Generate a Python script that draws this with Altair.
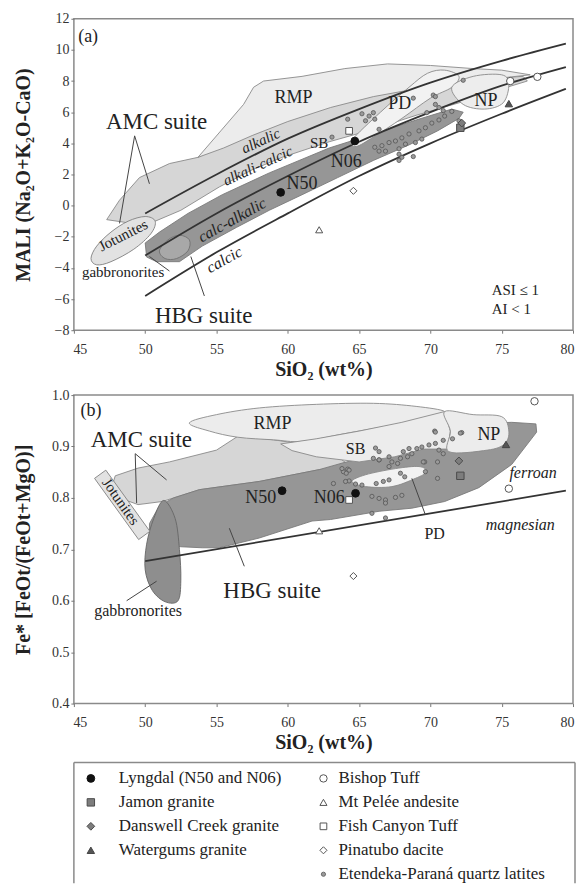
import altair as alt
import pandas as pd

# ---------------- data ----------------
SIO2_TICKS = [45, 50, 55, 60, 65, 70, 75, 80]
MALI_TICKS = [-8, -6, -4, -2, 0, 2, 4, 6, 8, 10, 12]
FE_TICKS = [0.4, 0.5, 0.6, 0.7, 0.8, 0.9, 1.0]

# panel (a) class boundaries
LINE_SIO2 = [50, 55, 60, 65, 70, 75, 79.5]
MALI_ALKALIC = [-0.5, 2.0, 4.3, 6.2, 7.9, 9.3, 10.4]
MALI_ALKCALCIC = [-3.2, -0.5, 1.9, 4.1, 6.0, 7.7, 8.9]
MALI_CALCALK = [-5.8, -3.0, -0.5, 1.9, 4.0, 5.9, 7.5]

# panel (b) ferroan / magnesian boundary
FE_LINE_SIO2 = [50, 79.5]
FE_LINE = [0.677, 0.814]

# fields, panel (a)  (SiO2, MALI)
AMC_A = [(47.3, -0.9), (48.2, 0.35), (49.6, 1.8), (51.7, 2.7), (53.7, 3.1), (57, 4.6), (61, 6.0),
         (65, 7.0), (69, 7.6), (73, 8.1), (76.5, 8.3), (76.8, 8.0), (75, 7.5), (72, 6.6), (69, 5.8),
         (66, 4.9), (62.9, 4.1), (59.6, 3.1), (57.5, 2.3), (55.2, 1.2), (52.5, -0.3), (50.7, -1.0),
         (49.5, -1.2)]
RMP_A = [(53.7, 3.1), (55.3, 4.8), (56.9, 6.5), (57.6, 7.6), (58.3, 8.0), (61, 8.3), (64, 8.8),
         (67, 9.1), (70, 9.0), (73, 8.8), (75, 8.7), (77, 8.4), (75, 8.2), (72, 7.9), (69, 7.5),
         (66, 7.0), (63, 6.3), (60, 5.4), (57.5, 4.5), (55.5, 3.7)]
HBG_A = [(50.0, -2.4), (51, -1.7), (53, -0.5), (55.4, 0.7), (58.7, 2.1), (62.9, 3.7), (66, 4.6),
         (69, 5.5), (71.5, 6.2), (72.3, 6.0), (72, 5.6), (70.5, 4.8), (68.5, 3.9), (66, 2.9),
         (63.5, 1.8), (61, 0.7), (58.7, -0.3), (56.4, -1.4), (54, -2.6), (52.4, -3.6), (50.8, -3.6),
         (50.1, -3.3)]
GAB_A = [(51.0, -2.9), (51.6, -2.2), (52.4, -1.9), (53.1, -2.2), (53.0, -2.9), (52.2, -3.4), (51.4, -3.4)]
JOT_A = [(46.2, -3.4), (46.6, -2.6), (47.6, -1.7), (48.8, -1.0), (50.0, -0.7), (50.7, -1.0),
         (50.4, -1.8), (49.2, -2.8), (47.6, -3.6), (46.6, -3.8)]
PD_A = [(64.5, 4.2), (66.5, 6.0), (68.5, 7.6), (69.8, 8.5), (71, 8.7), (72, 8.3), (71.5, 7.6),
        (70, 6.9), (68, 5.6), (66, 4.4), (64.8, 3.8)]
NP_A = [(71.5, 7.6), (73, 8.3), (75, 8.4), (75.5, 7.8), (75.1, 6.6), (73.8, 6.2), (72.3, 6.5)]

# fields, panel (b)  (SiO2, Fe*)
AMC_B = [(47.9, 0.843), (49.5, 0.858), (51.7, 0.87), (55, 0.893), (56.5, 0.92), (59, 0.913),
         (61, 0.905), (63, 0.89), (64.5, 0.86), (62.2, 0.855), (58, 0.832), (53.8, 0.816),
         (51.2, 0.793), (49.5, 0.787), (48.2, 0.80), (47.7, 0.825)]
RMP_B = [(53.1, 0.946), (55, 0.962), (58, 0.975), (62, 0.982), (66, 0.984), (69, 0.978), (71, 0.968),
         (70, 0.955), (67, 0.94), (64, 0.925), (61, 0.91), (59, 0.913), (56.5, 0.918), (54.5, 0.93)]
SB_B = [(59.5, 0.905), (62, 0.915), (65, 0.93), (68, 0.947), (71, 0.968), (71.4, 0.93), (71.2, 0.895),
        (69.5, 0.895), (67.5, 0.88), (65, 0.87), (62, 0.88), (60.3, 0.892)]
NP_B = [(71, 0.968), (73, 0.962), (75, 0.958), (75.5, 0.93), (75.2, 0.905), (74, 0.893), (71.3, 0.89),
        (71.4, 0.93)]
HBG_B = [(50.3, 0.75), (51.0, 0.785), (52, 0.8), (53.8, 0.816), (58, 0.832), (62.2, 0.855), (64.1, 0.87),
         (67.5, 0.89), (70, 0.91), (71.5, 0.935), (73.5, 0.945), (75.7, 0.947), (77.4, 0.944),
         (77.45, 0.928), (75.7, 0.865), (73.4, 0.82), (71, 0.793), (68.7, 0.78), (66.4, 0.774),
         (63, 0.758), (61.7, 0.755), (58, 0.722), (55.2, 0.703), (54, 0.703), (52.5, 0.705),
         (51, 0.71), (50.3, 0.72)]
GAB_B = [(51.3, 0.795), (50.6, 0.76), (50.1, 0.71), (50.0, 0.66), (50.5, 0.62), (51.4, 0.598),
         (52.3, 0.6), (52.5, 0.64), (52.4, 0.7), (52.1, 0.76)]
JOT_B = [(47.24, 0.854), (46.45, 0.838), (49.54, 0.719), (50.33, 0.735)]
PD_B = [(64.5, 0.832), (65.45, 0.845), (67.55, 0.857), (69.2, 0.861), (69.75, 0.851), (68.95, 0.838),
        (67.3, 0.822), (65.45, 0.822)]

# samples
LYNGDAL_A = [(59.5, 0.85), (64.7, 4.15)]
JAMON_A = [(72.1, 5.0)]
DANSWELL_A = [(72.2, 5.3)]
WATERGUMS_A = [(75.5, 6.55)]
BISHOP_A = [(75.6, 8.0), (77.5, 8.27)]
PELEE_A = [(62.2, -1.55)]
FISH_A = [(64.3, 4.8)]
PINATUBO_A = [(64.6, 0.95)]
ETENDEKA_A = [(68.8, 6.9), (70.2, 7.1), (64.2, 5.55), (65.2, 5.9), (65.7, 5.75), (66.0, 5.97), (66.1, 5.55),
              (65.45, 5.45), (63.1, 4.4), (66.4, 4.9), (66.1, 3.75), (66.6, 3.85), (67.1, 4.05),
              (67.55, 4.15), (68.0, 4.35), (68.5, 4.6), (69.2, 4.8), (69.65, 5.0), (70.1, 5.3), (70.6, 5.5),
              (71.0, 5.75), (71.5, 6.05), (69.75, 5.97), (70.6, 6.3), (70.9, 6.1), (70.35, 6.5), (66.4, 3.5),
              (66.85, 3.5), (67.8, 3.65), (68.25, 3.95), (68.95, 4.05), (69.4, 4.27), (67.8, 3.3),
              (68.0, 3.1), (67.8, 2.9), (68.8, 3.15), (72.0, 5.45), (70.35, 7.0), (72.3, 8.05)]

LYNGDAL_B = [(59.6, 0.814), (64.75, 0.809)]
JAMON_B = [(72.1, 0.843)]
DANSWELL_B = [(72.0, 0.872)]
WATERGUMS_B = [(75.3, 0.904)]
BISHOP_B = [(77.3, 0.988), (75.5, 0.818)]
PELEE_B = [(62.2, 0.736)]
FISH_B = [(64.3, 0.796)]
PINATUBO_B = [(64.6, 0.648)]
ETENDEKA_B = [(70.3, 0.930), (72.2, 0.927), (71.55, 0.915), (70.9, 0.912), (70.35, 0.906), (69.9, 0.903),
              (69.4, 0.899), (69.05, 0.896), (68.5, 0.896), (68.1, 0.89), (68.7, 0.886), (68.4, 0.880),
              (67.9, 0.877), (67.7, 0.867), (67.3, 0.87), (67.1, 0.861), (66.4, 0.874), (66.0, 0.877),
              (69.6, 0.870), (70.6, 0.893), (70.9, 0.886), (70.5, 0.870), (70.5, 0.838), (69.65, 0.851),
              (67.9, 0.848), (68.2, 0.841), (66.7, 0.832), (66.2, 0.828), (67.1, 0.835), (65.2, 0.825),
              (64.75, 0.827), (64.3, 0.833), (63.9, 0.851), (64.2, 0.856), (66.4, 0.890), (67.1, 0.880),
              (65.9, 0.803), (66.4, 0.799), (66.85, 0.796), (67.55, 0.801), (68.0, 0.805), (66.85, 0.790),
              (65.9, 0.770), (66.85, 0.761), (64.3, 0.854), (64.05, 0.832), (66.4, 0.874), (70.35, 0.928),
              (72.1, 0.926), (69.5, 0.87), (63.2, 0.828), (63.8, 0.857), (64.1, 0.848), (66.15, 0.897)]

# annotations: (text, SiO2, y)
TEXT_A = [("(a)", 46.0, 10.85), ("AMC suite", 50.8, 5.35), ("HBG suite", 54.1, -7.1), ("RMP", 60.4, 6.9),
          ("PD", 67.85, 6.55), ("NP", 73.9, 6.7), ("SB", 62.2, 4.0), ("N06", 64.1, 2.8), ("N50", 61.0, 1.4),
          ("gabbronorites", 48.45, -4.25)]
ITALIC_A = [("alkalic", 58.1, 4.17), ("alkali-calcic", 57.9, 2.57), ("calc-alkalic", 56.1, -0.93),
            ("calcic", 55.55, -3.48)]
NOTE_A = [("ASI ≤ 1", 74.3, -5.4), ("AI < 1", 74.3, -6.66)]
JOT_LABEL_A = ("Jotunites", 48.45, -1.9)
LEADERS_A = [(49.26, 4.48, 48.2, -1.14), (49.26, 4.48, 50.3, 1.4), (53.2, -3.27, 54.15, -5.8),
             (51.7, -4.2, 50.3, -3.27)]

TEXT_B = [("(b)", 46.2, 0.97), ("RMP", 58.93, 0.944), ("AMC suite", 49.73, 0.912), ("N50", 58.1, 0.80),
          ("N06", 62.9, 0.80), ("SB", 64.75, 0.895), ("NP", 74.1, 0.922), ("PD", 70.3, 0.729),
          ("HBG suite", 58.9, 0.619), ("gabbronorites", 49.5, 0.58)]
ITALIC_B = [("ferroan", 77.2, 0.848), ("magnesian", 76.3, 0.748)]
JOT_LABEL_B = ("Jotunites", 48.3, 0.793)
LEADERS_B = [(49.3, 0.886, 51.5, 0.835), (49.3, 0.886, 49.4, 0.79), (55.9, 0.741, 56.95, 0.667),
             (48.7, 0.60, 50.8, 0.638), (68.7, 0.838, 69.65, 0.767)]

LEGEND_LEFT = ["Lyngdal (N50 and N06)", "Jamon granite", "Danswell Creek granite", "Watergums granite"]
LEGEND_RIGHT = ["Bishop Tuff", "Mt Pelée andesite", "Fish Canyon Tuff", "Pinatubo dacite",
                "Etendeka-Paraná quartz latites"]
LEGEND_LEFT_KEYS = ["lyngdal", "jamon", "danswell", "watergums"]
LEGEND_RIGHT_KEYS = ["bishop", "pelee", "fish", "pinatubo", "etendeka"]

# ---------------- styles ----------------
FONT = "Liberation Serif"
FRAME = "#8a8a8a"
STYLE = {
    "lyngdal": dict(shape="circle", fill="#111111", stroke="#111111", size=60, sw=1),
    "jamon": dict(shape="square", fill="#7d7d7d", stroke="#4a4a4a", size=55, sw=1),
    "danswell": dict(shape="diamond", fill="#7d7d7d", stroke="#4a4a4a", size=60, sw=1),
    "watergums": dict(shape="triangle-up", fill="#555555", stroke="#444444", size=55, sw=1),
    "bishop": dict(shape="circle", fill="#ffffff", stroke="#555555", size=55, sw=1),
    "pelee": dict(shape="triangle-up", fill="#ffffff", stroke="#555555", size=50, sw=1),
    "fish": dict(shape="square", fill="#ffffff", stroke="#555555", size=45, sw=1),
    "pinatubo": dict(shape="diamond", fill="#ffffff", stroke="#555555", size=50, sw=1),
    "etendeka": dict(shape="circle", fill="#9a9a9a", stroke="#555555", size=18, sw=0.8),
}

XDOM = [45, 80]


def make_panel(dom, x_axis, y_axis):
    xs = alt.Scale(domain=XDOM, nice=False, zero=False)
    ys = alt.Scale(domain=dom, nice=False, zero=False)

    def xe():
        return alt.X("x:Q", scale=xs, axis=x_axis)

    def ye():
        return alt.Y("y:Q", scale=ys, axis=y_axis)

    def poly(pts, fill, stroke="#8a8a8a", sw=0.9, interp="linear"):
        df = pd.DataFrame({"x": [p[0] for p in pts], "y": [p[1] for p in pts], "i": list(range(len(pts)))})
        if interp == "linear":
            df = pd.concat([df, df.iloc[[0]].assign(i=len(pts))], ignore_index=True)
        return alt.Chart(df).mark_line(fill=fill, stroke=stroke, strokeWidth=sw, interpolate=interp).encode(
            x=xe(), y=ye(), order="i:Q")

    def curve(xv, yv, color="#333333", sw=1.8):
        df = pd.DataFrame({"x": xv, "y": yv, "i": list(range(len(xv)))})
        return alt.Chart(df).mark_line(color=color, strokeWidth=sw, interpolate="monotone").encode(
            x=xe(), y=ye(), order="i:Q")

    def texts(items, size, style="normal", angle=0, align="center", color="#222222"):
        df = pd.DataFrame({"t": [t[0] for t in items], "x": [t[1] for t in items], "y": [t[2] for t in items]})
        return alt.Chart(df).mark_text(font=FONT, fontSize=size, fontStyle=style, angle=angle, align=align,
                                       baseline="middle", color=color).encode(x=xe(), y=ye(), text="t:N")

    def leaders(segs):
        df = pd.DataFrame({"x": [s[0] for s in segs], "y": [s[1] for s in segs],
                           "x2": [s[2] for s in segs], "y2": [s[3] for s in segs]})
        return alt.Chart(df).mark_rule(color="#444444", strokeWidth=1).encode(
            x=xe(), y=ye(), x2="x2:Q", y2="y2:Q")

    def pts(points, key):
        st = STYLE[key]
        df = pd.DataFrame({"x": [p[0] for p in points], "y": [p[1] for p in points]})
        return alt.Chart(df).mark_point(shape=st["shape"], filled=True, fill=st["fill"], stroke=st["stroke"],
                                        strokeWidth=st["sw"], size=st["size"], opacity=1).encode(
            x=xe(), y=ye())

    return poly, curve, texts, leaders, pts


x_axis = alt.Axis(values=SIO2_TICKS, format="d", title="SiO₂ (wt%)", titleY=39, titleBaseline="middle",
                  labelFlush=True, labelFlushOffset=1)

# ---------------- panel (a) ----------------
DA = [-8, 12]
ya_axis = alt.Axis(values=MALI_TICKS, format="d", title="MALI (Na₂O+K₂O-CaO)", titleX=-50,
                   titleBaseline="middle")
poly, curve, texts, leaders, pts = make_panel(DA, x_axis, ya_axis)
panel_a = alt.layer(
    poly(AMC_A, "#d6d6d6"),
    poly(RMP_A, "#ececec"),
    poly(HBG_A, "#969696", stroke="#7a7a7a"),
    poly(GAB_A, "#a8a8a8", stroke="#707070", interp="cardinal-closed"),
    poly(JOT_A, "#e2e2e2", stroke="#808080", interp="cardinal-closed"),
    poly(PD_A, "#f2f2f2", stroke="#8a8a8a", interp="cardinal-closed"),
    poly(NP_A, "#ededed", stroke="#8a8a8a", interp="cardinal-closed"),
    curve(LINE_SIO2, MALI_ALKALIC),
    curve(LINE_SIO2, MALI_ALKCALCIC),
    curve(LINE_SIO2, MALI_CALCALK),
    leaders(LEADERS_A),
    pts(ETENDEKA_A, "etendeka"),
    pts(JAMON_A, "jamon"),
    pts(DANSWELL_A, "danswell"),
    pts(WATERGUMS_A, "watergums"),
    pts(BISHOP_A, "bishop"),
    pts(PELEE_A, "pelee"),
    pts(FISH_A, "fish"),
    pts(PINATUBO_A, "pinatubo"),
    pts(LYNGDAL_A, "lyngdal"),
    texts([t for t in TEXT_A if t[0] in ("AMC suite", "HBG suite")], 23),
    texts([t for t in TEXT_A if t[0] in ("RMP", "PD", "NP", "N06", "N50", "(a)")], 18),
    texts([t for t in TEXT_A if t[0] in ("SB", "gabbronorites")], 15),
    texts([ITALIC_A[0], ITALIC_A[1]], 15, style="italic", angle=335),
    texts([ITALIC_A[2], ITALIC_A[3]], 16, style="italic", angle=331),
    texts([JOT_LABEL_A], 15, angle=333),
    texts(NOTE_A, 15, align="left"),
).properties(width=500, height=312)

# ---------------- panel (b) ----------------
DB = [0.4, 1.0]
yb_axis = alt.Axis(values=FE_TICKS, format=".1f", title="Fe* [FeOt/(FeOt+MgO)]", titleX=-50,
                   titleBaseline="middle")
poly, curve, texts, leaders, pts = make_panel(DB, x_axis, yb_axis)
panel_b = alt.layer(
    poly(AMC_B, "#d6d6d6"),
    poly(RMP_B, "#ececec", interp="cardinal-closed"),
    poly(HBG_B, "#969696", stroke="#7a7a7a"),
    poly(SB_B, "#ececec"),
    poly(NP_B, "#ececec", interp="cardinal-closed"),
    poly(GAB_B, "#8e8e8e", stroke="#666666", interp="cardinal-closed"),
    poly(JOT_B, "#e2e2e2", stroke="#808080"),
    poly(PD_B, "#f2f2f2", stroke="#8a8a8a", interp="cardinal-closed"),
    curve(FE_LINE_SIO2, FE_LINE),
    leaders(LEADERS_B),
    pts(ETENDEKA_B, "etendeka"),
    pts(JAMON_B, "jamon"),
    pts(DANSWELL_B, "danswell"),
    pts(WATERGUMS_B, "watergums"),
    pts(BISHOP_B, "bishop"),
    pts(PELEE_B, "pelee"),
    pts(FISH_B, "fish"),
    pts(PINATUBO_B, "pinatubo"),
    pts(LYNGDAL_B, "lyngdal"),
    texts([t for t in TEXT_B if t[0] in ("AMC suite", "HBG suite")], 23),
    texts([t for t in TEXT_B if t[0] in ("RMP", "N50", "N06", "NP", "(b)")], 18),
    texts([t for t in TEXT_B if t[0] in ("SB", "PD", "gabbronorites")], 16),
    texts(ITALIC_B, 16, style="italic"),
    texts([JOT_LABEL_B], 15, angle=55),
).properties(width=500, height=309)

# ---------------- legend panel (box open at the bottom, as in the cropped original) ----------------
LEG_W, LEG_H = 502, 121
LEG_MARK_X = [17, 250]
LEG_TEXT_X = [45, 265]
rows = []
for col, (labels, keys) in enumerate([(LEGEND_LEFT, LEGEND_LEFT_KEYS), (LEGEND_RIGHT, LEGEND_RIGHT_KEYS)]):
    for r, (lab, k) in enumerate(zip(labels, keys)):
        rows.append(dict(label=lab, key=k, row=r, mx=LEG_MARK_X[col], tx=LEG_TEXT_X[col]))
leg_df = pd.DataFrame(rows)
lx = alt.Scale(domain=[0, LEG_W], nice=False, zero=False)
ly = alt.Scale(domain=[-16 / 24, (LEG_H - 16) / 24], nice=False, zero=False, reverse=True)
frame = [
    alt.Chart(leg_df.head(1)).mark_rule(color=FRAME, strokeWidth=1.5).encode(
        x=alt.value(0), x2=alt.value(LEG_W), y=alt.value(0)),
    alt.Chart(leg_df.head(1)).mark_rule(color=FRAME, strokeWidth=1.5).encode(
        x=alt.value(0), y=alt.value(0), y2=alt.value(LEG_H)),
    alt.Chart(leg_df.head(1)).mark_rule(color=FRAME, strokeWidth=1.5).encode(
        x=alt.value(LEG_W), y=alt.value(0), y2=alt.value(LEG_H)),
]
leg_layers = frame + [alt.Chart(leg_df).mark_text(font=FONT, fontSize=17, align="left", baseline="middle",
                                                  color="#222222").encode(
    x=alt.X("tx:Q", scale=lx, axis=None), y=alt.Y("row:Q", scale=ly, axis=None), text="label:N")]
for k, st in STYLE.items():
    leg_layers.append(
        alt.Chart(leg_df).transform_filter(alt.datum.key == k).mark_point(
            shape=st["shape"], filled=True, fill=st["fill"], stroke=st["stroke"], strokeWidth=st["sw"],
            size=st["size"], opacity=1).encode(
            x=alt.X("mx:Q", scale=lx, axis=None), y=alt.Y("row:Q", scale=ly, axis=None)))
legend = alt.layer(*leg_layers).properties(width=LEG_W, height=LEG_H,
                                           view=alt.ViewBackground(stroke="transparent"))

chart = alt.vconcat(panel_a, panel_b, legend, spacing=7).properties(
    padding={"left": 5, "top": 2, "right": 0, "bottom": 0}
).configure(font=FONT).configure_view(stroke=FRAME, strokeWidth=1.5).configure_axis(
    domain=False, grid=False, tickColor="#777777", tickSize=3, labelFont=FONT, labelFontSize=14,
    labelColor="#333333", labelPadding=2, titleFont=FONT, titleFontSize=20, titleFontWeight="bold",
    titleColor="#222222"
).configure_axisBottom(labelPadding=9)

chart.save("out.html", embed_options={"renderer": "svg", "actions": False})
